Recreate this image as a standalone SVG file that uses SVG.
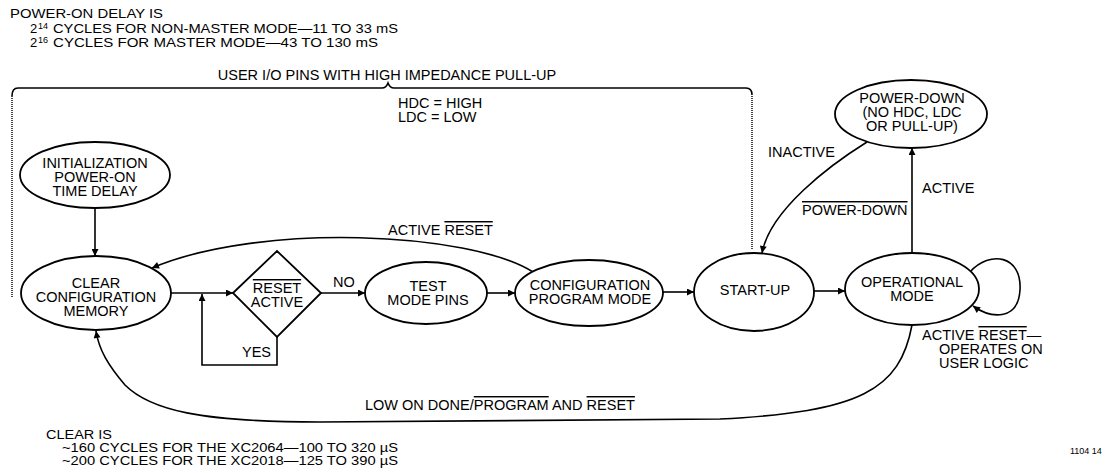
<svg xmlns="http://www.w3.org/2000/svg" width="1112" height="473" viewBox="0 0 1112 473">
<style>
text{font-family:"Liberation Sans",Arial,sans-serif;font-size:14.5px;fill:#000}
.c{text-anchor:middle}
.ov{text-decoration:overline}
.node{fill:#fff;stroke:#000;stroke-width:1.8}
.con{fill:none;stroke:#000;stroke-width:1.6}
.dot{fill:none;stroke:#444;stroke-width:2;stroke-dasharray:1 1}
.small{font-size:9px}
.n13{font-size:13px}
.n12{font-size:12.5px}
.sup{font-size:9px}
</style>
<defs>
<marker id="ah" viewBox="0 0 10 10" refX="10" refY="5" markerWidth="9" markerHeight="7" orient="auto" markerUnits="userSpaceOnUse"><path d="M0,0 L10,5 L0,10 z" fill="#000"/></marker>
</defs>
<rect width="1112" height="473" fill="#fff"/>
<g id="notes">
<text x="10" y="18" class="n13" textLength="153" lengthAdjust="spacingAndGlyphs">POWER-ON DELAY IS</text>
<text x="30" y="33" class="n13">2</text>
<text x="38" y="29" class="sup">14</text>
<text x="53" y="33" class="n13" textLength="345" lengthAdjust="spacingAndGlyphs">CYCLES FOR NON-MASTER MODE—11 TO 33 mS</text>
<text x="30" y="47" class="n13">2</text>
<text x="38" y="43" class="sup">16</text>
<text x="53" y="47" class="n13" textLength="325" lengthAdjust="spacingAndGlyphs">CYCLES FOR MASTER MODE—43 TO 130 mS</text>
<text x="387" y="80" class="c">USER I/O PINS WITH HIGH IMPEDANCE PULL-UP</text>
<path class="con" d="M12,96 Q12,88 18,88 L382,88 Q386,88 388,83 Q390,88 394,88 L746,88 Q752,88 752,95"/>
<line class="dot" x1="12" y1="96" x2="12" y2="298"/>
<line class="dot" x1="752" y1="96" x2="752" y2="250"/>
<text x="398" y="108">HDC = HIGH</text>
<text x="398" y="122">LDC = LOW</text>
<text x="46" y="439" class="n12" textLength="66" lengthAdjust="spacingAndGlyphs">CLEAR IS</text>
<text x="62" y="452" class="n12" textLength="336" lengthAdjust="spacingAndGlyphs">~160 CYCLES FOR THE XC2064—100 TO 320 µS</text>
<text x="62" y="465" class="n12" textLength="336" lengthAdjust="spacingAndGlyphs">~200 CYCLES FOR THE XC2018—125 TO 390 µS</text>
<text x="1070" y="454" class="small">1104 14</text>
</g>
<g id="connectors">
<path class="con" d="M95,208 L95,256" marker-end="url(#ah)"/>
<path class="con" d="M171,293 L233,293" marker-end="url(#ah)"/>
<path class="con" d="M277,337 L277,365 L202,365 L202,294" marker-end="url(#ah)"/>
<path class="con" d="M321,293 L365,293" marker-end="url(#ah)"/>
<path class="con" d="M487,293 L515,293" marker-end="url(#ah)"/>
<path class="con" d="M663,292 L694,292" marker-end="url(#ah)"/>
<path class="con" d="M814,291 L845,291" marker-end="url(#ah)"/>
<path class="con" d="M912,253 L912,148" marker-end="url(#ah)"/>
<path class="con" d="M867,142 C830,165 770,210 762,253" marker-end="url(#ah)"/>
<path class="con" d="M970,272 C990,250 1022,255 1020,290 C1018,322 990,318 973,306" marker-end="url(#ah)"/>
<path class="con" d="M533,272 C470,232 260,222 152,268" marker-end="url(#ah)"/>
<path class="con" d="M912,325 C900,390 860,412 720,419 L320,422 C200,422 150,410 125,385 C108,365 99,350 96,331" marker-end="url(#ah)"/>
<text x="333" y="287">NO</text>
<text x="242" y="357">YES</text>
<text x="388" y="235">ACTIVE <tspan class="ov">RESET</tspan></text>
<text x="768" y="157">INACTIVE</text>
<text x="802" y="215" class="ov">POWER-DOWN</text>
<text x="922" y="193">ACTIVE</text>
<text x="922" y="340">ACTIVE <tspan class="ov">RESET</tspan>—</text>
<text x="939" y="354">OPERATES ON</text>
<text x="939" y="368">USER LOGIC</text>
<text x="365" y="410">LOW ON DONE/<tspan class="ov">PROGRAM</tspan> AND <tspan class="ov">RESET</tspan></text>
</g>
<g id="n-init">
<ellipse class="node" cx="95" cy="175" rx="75" ry="33"/>
<text class="c" x="95" y="168">INITIALIZATION</text>
<text class="c" x="95" y="182">POWER-ON</text>
<text class="c" x="95" y="196">TIME DELAY</text>
</g>
<g id="n-clear">
<ellipse class="node" cx="96" cy="293" rx="75" ry="37"/>
<text class="c" x="96" y="288">CLEAR</text>
<text class="c" x="96" y="302">CONFIGURATION</text>
<text class="c" x="96" y="316">MEMORY</text>
</g>
<g id="n-reset">
<polygon class="node" points="233,293 277,251 321,293 277,337"/>
<text class="c ov" x="277" y="293">RESET</text>
<text class="c" x="277" y="307">ACTIVE</text>
</g>
<g id="n-test">
<ellipse class="node" cx="426" cy="293" rx="61" ry="31"/>
<text class="c" x="428" y="291">TEST</text>
<text class="c" x="428" y="305">MODE PINS</text>
</g>
<g id="n-config">
<ellipse class="node" cx="589" cy="293" rx="74" ry="33"/>
<text class="c" x="590" y="290">CONFIGURATION</text>
<text class="c" x="590" y="304">PROGRAM MODE</text>
</g>
<g id="n-startup">
<ellipse class="node" cx="754" cy="292" rx="60" ry="39"/>
<text class="c" x="755" y="295">START-UP</text>
</g>
<g id="n-oper">
<ellipse class="node" cx="912" cy="289" rx="67" ry="36"/>
<text class="c" x="912" y="287">OPERATIONAL</text>
<text class="c" x="912" y="301">MODE</text>
</g>
<g id="n-powerdown">
<ellipse class="node" cx="911" cy="114" rx="76" ry="34"/>
<text class="c" x="912" y="103">POWER-DOWN</text>
<text class="c" x="912" y="117">(NO HDC, LDC</text>
<text class="c" x="912" y="131">OR PULL-UP)</text>
</g>
</svg>
